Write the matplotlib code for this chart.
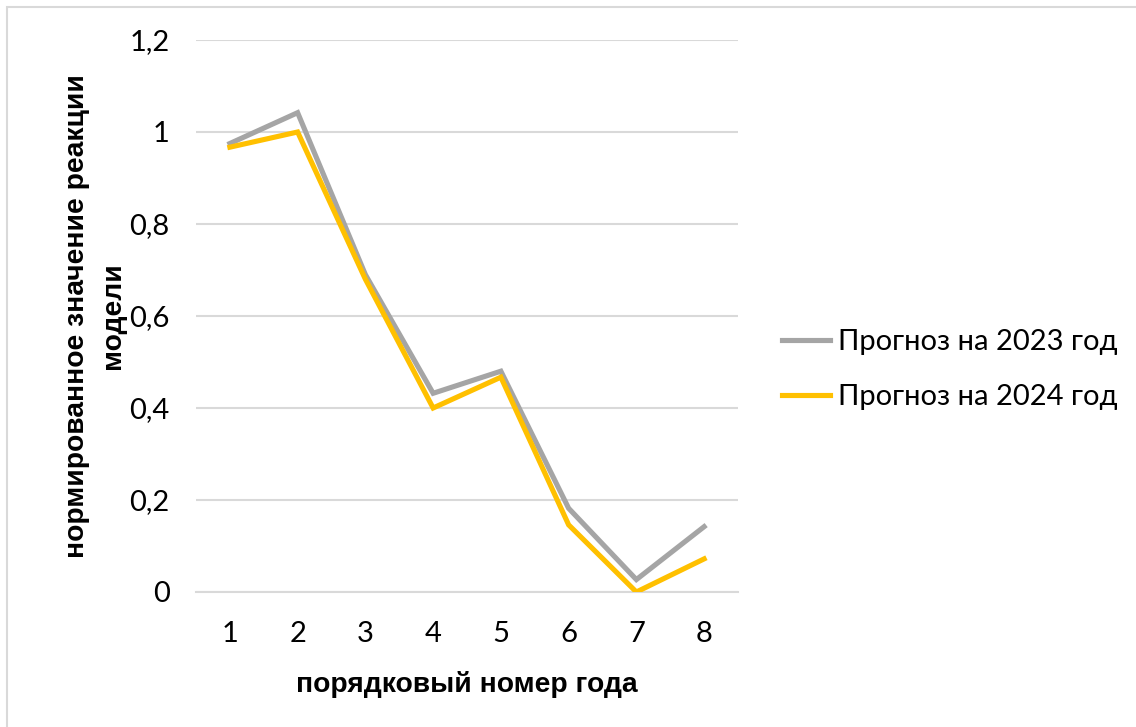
import matplotlib
matplotlib.use("Agg")
import matplotlib.pyplot as plt
from matplotlib.patches import Rectangle

# Data
years = [1, 2, 3, 4, 5, 6, 7, 8]
forecast_2023 = [0.975, 1.042, 0.69, 0.432, 0.480, 0.182, 0.027, 0.142]
forecast_2024 = [0.967, 1.000, 0.68, 0.400, 0.467, 0.146, 0.000, 0.072]
series_labels = ["Прогноз на 2023 год", "Прогноз на 2024 год"]
y_ticks = [0, 0.2, 0.4, 0.6, 0.8, 1.0, 1.2]
y_tick_labels = ["0", "0,2", "0,4", "0,6", "0,8", "1", "1,2"]
x_label = "порядковый номер года"
y_label = "нормированное значение реакции\nмодели"

W, H = 1136, 727
fig = plt.figure(figsize=(W / 100, H / 100), dpi=100)
fig.patch.set_facecolor("white")

# chart-area frame
fig.patches.append(Rectangle((7 / W, -0.05), 1.2, 1 - 7 / H + 0.05,
                             transform=fig.transFigure, fill=False,
                             edgecolor="#d9d9d9", linewidth=1.5))

ax = fig.add_axes([196 / W, 1 - 592 / H, (738 - 196) / W, (592 - 40) / H])
tick_font = "Lato"
label_font = "Liberation Sans"
tick_size = 21

ax.plot(years, forecast_2023, color="#a5a5a5", linewidth=3.7,
        solid_joinstyle="miter", label=series_labels[0], zorder=3)
ax.plot(years, forecast_2024, color="#ffc000", linewidth=3.7,
        solid_joinstyle="miter", label=series_labels[1], zorder=4)

ax.set_xlim(0.5, 8.5)
ax.set_ylim(0, 1.2)
ax.set_yticks(y_ticks)
ax.set_yticklabels(y_tick_labels, fontfamily=tick_font, fontsize=tick_size)
ax.set_xticks(years)
ax.set_xticklabels([str(y) for y in years], fontfamily=tick_font, fontsize=tick_size)
ax.tick_params(axis="both", length=0, colors="black")
ax.tick_params(axis="y", pad=19)
ax.tick_params(axis="x", pad=21)
ax.grid(axis="y", color="#d9d9d9", linewidth=1.5)
ax.set_axisbelow(True)
for side in ["top", "right", "left"]:
    ax.spines[side].set_visible(False)
ax.spines["bottom"].set_color("#d9d9d9")
ax.spines["bottom"].set_linewidth(1.5)

ax.set_xlabel(x_label, fontfamily=label_font, fontweight="bold", fontsize=20.3)
ax.xaxis.label.set_va("center")
ax.xaxis.set_label_coords(0.5, (592 - 684) / 552)
ax.set_ylabel(y_label, fontfamily=label_font, fontweight="bold",
              fontsize=20.3, linespacing=1.45)
ax.yaxis.label.set_va("center")
ax.yaxis.set_label_coords((95 - 196) / 542, (592 - 316) / 552)

leg = fig.legend(loc="center left", bbox_to_anchor=(782 / W, 1 - 369.5 / H),
                 frameon=False, prop={"family": tick_font, "size": tick_size},
                 handlelength=1.65, handletextpad=0.28, labelspacing=0.98,
                 borderpad=0, borderaxespad=0)

fig.savefig("out.png", dpi=100, facecolor="white")
